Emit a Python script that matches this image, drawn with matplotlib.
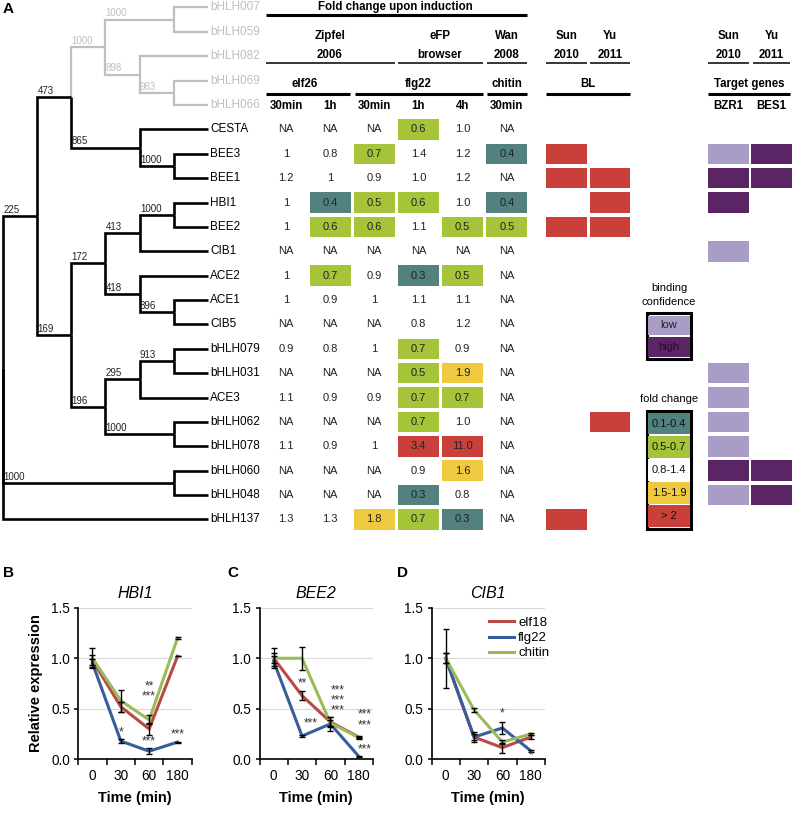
import matplotlib
matplotlib.use("Agg")
import matplotlib.pyplot as plt
from matplotlib.patches import Rectangle
from matplotlib.ticker import FormatStrFormatter

plt.rcParams['font.family'] = ['Liberation Sans', 'DejaVu Sans']

# ---------------- panel A data ----------------
# phylogeny: (bootstrap, depth level, children); leaves are gene names
tree = (None, 0, [
    (225, 1, [
        (473, 2, [
            (1000, 3, [(1000, 5, ['bHLH007', 'bHLH059']),
                       (898, 4, ['bHLH082', (983, 5, ['bHLH069', 'bHLH066'])])]),
            (865, 4, ['CESTA', (1000, 5, ['BEE3', 'BEE1'])]),
        ]),
        (169, 2, [
            (172, 3, [(413, 4, [(1000, 5, ['HBI1', 'BEE2']), 'CIB1']),
                      (418, 4, ['ACE2', (896, 5, ['ACE1', 'CIB5'])])]),
            (196, 3, [(295, 4, [(913, 5, ['bHLH079', 'bHLH031']), 'ACE3']),
                      (1000, 5, ['bHLH062', 'bHLH078'])]),
        ]),
    ]),
    (1000, 5, ['bHLH060', 'bHLH048']),
    'bHLH137',
])
grey_leaves = ['bHLH007', 'bHLH059', 'bHLH082', 'bHLH069', 'bHLH066']

table_genes = ['CESTA', 'BEE3', 'BEE1', 'HBI1', 'BEE2', 'CIB1', 'ACE2', 'ACE1', 'CIB5',
               'bHLH079', 'bHLH031', 'ACE3', 'bHLH062', 'bHLH078', 'bHLH060', 'bHLH048', 'bHLH137']
table_cols = ['30min', '1h', '30min', '1h', '4h', '30min']
fold_values = [
    ['NA', 'NA', 'NA', '0.6', '1.0', 'NA'],
    ['1', '0.8', '0.7', '1.4', '1.2', '0.4'],
    ['1.2', '1', '0.9', '1.0', '1.2', 'NA'],
    ['1', '0.4', '0.5', '0.6', '1.0', '0.4'],
    ['1', '0.6', '0.6', '1.1', '0.5', '0.5'],
    ['NA', 'NA', 'NA', 'NA', 'NA', 'NA'],
    ['1', '0.7', '0.9', '0.3', '0.5', 'NA'],
    ['1', '0.9', '1', '1.1', '1.1', 'NA'],
    ['NA', 'NA', 'NA', '0.8', '1.2', 'NA'],
    ['0.9', '0.8', '1', '0.7', '0.9', 'NA'],
    ['NA', 'NA', 'NA', '0.5', '1.9', 'NA'],
    ['1.1', '0.9', '0.9', '0.7', '0.7', 'NA'],
    ['NA', 'NA', 'NA', '0.7', '1.0', 'NA'],
    ['1.1', '0.9', '1', '3.4', '11.0', 'NA'],
    ['NA', 'NA', 'NA', '0.9', '1.6', 'NA'],
    ['NA', 'NA', 'NA', '0.3', '0.8', 'NA'],
    ['1.3', '1.3', '1.8', '0.7', '0.3', 'NA'],
]
bl_sun = ['BEE3', 'BEE1', 'BEE2', 'bHLH137']
bl_yu = ['BEE1', 'HBI1', 'BEE2', 'bHLH062']
bzr1_targets = {'BEE3': 'low', 'BEE1': 'high', 'HBI1': 'high', 'CIB1': 'low', 'bHLH031': 'low',
                'ACE3': 'low', 'bHLH062': 'low', 'bHLH078': 'low', 'bHLH060': 'high', 'bHLH048': 'low'}
bes1_targets = {'BEE3': 'high', 'BEE1': 'high', 'bHLH060': 'high', 'bHLH048': 'high'}

fold_labels = ['0.1-0.4', '0.5-0.7', '0.8-1.4', '1.5-1.9', '> 2']
binding_labels = ['low', 'high']

# ---------------- panels B-D data ----------------
times = ['0', '30', '60', '180']
treatments = ['elf18', 'flg22', 'chitin']
genes_bd = ['HBI1', 'BEE2', 'CIB1']
hbi1_mean = [[0.98, 0.52, 0.30, 1.02], [0.95, 0.18, 0.08, 0.17], [1.0, 0.58, 0.39, 1.20]]
hbi1_err = [[0.05, 0.05, 0.055, 0.0], [0.04, 0.02, 0.03, 0.005], [0.10, 0.11, 0.045, 0.01]]
bee2_mean = [[1.0, 0.63, 0.37, 0.22], [0.97, 0.23, 0.35, 0.03], [1.0, 1.0, 0.36, 0.215]]
bee2_err = [[0.05, 0.045, 0.05, 0.01], [0.05, 0.01, 0.07, 0.005], [0.10, 0.115, 0.03, 0.01]]
cib1_mean = [[1.0, 0.22, 0.115, 0.22], [1.0, 0.22, 0.31, 0.085], [1.0, 0.49, 0.17, 0.25]]
cib1_err = [[0.29, 0.05, 0.05, 0.02], [0.05, 0.03, 0.06, 0.01], [0.05, 0.02, 0.02, 0.01]]
# significance marks: (time index, y, text); stacked marks share one text
hbi1_stars = [(1, 0.27, '*'), (2, 0.675, '**\n***'), (2, 0.18, '***'), (3, 0.25, '***')]
bee2_stars = [(1, 0.75, '**'), (1.3, 0.35, '***'), (2.25, 0.58, '***\n***\n***'),
              (3.2, 0.39, '***\n***'), (3.2, 0.10, '***')]
cib1_stars = [(2, 0.45, '*'), (3, 0.04, '*')]

# colours
TEAL, GREEN, YELLOW, RED = '#52817f', '#a5c43a', '#efc93f', '#c9403a'
LIGHTP, DARKP = '#a99dc8', '#5b2465'
GREY = '#bfbfbf'
line_cols = ['#b84a45', '#385d9b', '#9bbb59']


def fold_colour(s):
    if s == 'NA':
        return None
    v = float(s)
    if v <= 0.45:
        return TEAL
    if v <= 0.75:
        return GREEN
    if v < 1.45:
        return None
    if v < 2:
        return YELLOW
    return RED


fig = plt.figure(figsize=(7.95, 8.13), dpi=100)
ax = fig.add_axes([0, 0, 1, 1])
ax.set_xlim(0, 795)
ax.set_ylim(813, 0)
ax.axis('off')

ROW0, ROW_STEP = 7.5, 24.38
X0, X_STEP, LEAF_LEV = 2.7, 34.2, 6


def row_y(i):
    return ROW0 + ROW_STEP * i


def lev_x(l):
    return X0 + X_STEP * l


leaves = []


def collect(node):
    if isinstance(node, str):
        leaves.append(node)
    else:
        for k in node[2]:
            collect(k)


collect(tree)


def draw(node):
    if isinstance(node, str):
        return row_y(leaves.index(node)), node in grey_leaves
    boot, lev, kids = node
    x = lev_x(lev)
    res = [draw(k) for k in kids]
    y = (res[0][0] + res[-1][0]) / 2
    for k, (cy, grey) in zip(kids, res):
        col = GREY if grey else 'black'
        if isinstance(k, str):
            cx = lev_x(LEAF_LEV)
        else:
            cx = lev_x(k[1])
            ax.text(x + 0.5, cy - 1.2, str(k[0]), fontsize=7,
                    color=GREY if grey else '#222222', ha='left', va='bottom')
        ax.plot([x, x, cx], [y, cy, cy], color=col, lw=1.9 if not grey else 1.6,
                solid_joinstyle='miter', solid_capstyle='butt', zorder=2 if not grey else 1)
    return y, all(r[1] for r in res)


draw(tree)
for i, name in enumerate(leaves):
    ax.text(lev_x(LEAF_LEV) + 2.5, row_y(i), name, fontsize=8.5, va='center', ha='left',
            color=GREY if name in grey_leaves else 'black')

# table
col_x = [286 + 44.15 * j for j in range(6)]
CW, CH = 41, 20.5
for gene, vals in zip(table_genes, fold_values):
    y = row_y(leaves.index(gene))
    for x, v in zip(col_x, vals):
        c = fold_colour(v)
        if c:
            ax.add_patch(Rectangle((x - CW / 2, y - CH / 2), CW, CH, fc=c, ec='none'))
        ax.text(x, y, v, fontsize=8, ha='center', va='center', color='#222222')

# headers
hb = dict(fontsize=8.3, fontweight='bold', ha='center', va='center')
ax.text(395, 7, 'Fold change upon induction', **hb)
ax.plot([266, 527], [15, 15], color='black', lw=2.2, solid_capstyle='butt')
row1 = [(330, 'Zipfel', '2006'), (440, 'eFP', 'browser'), (506.7, 'Wan', '2008'),
        (566.3, 'Sun', '2010'), (610, 'Yu', '2011'), (728.3, 'Sun', '2010'), (771.5, 'Yu', '2011')]
for x, a, b in row1:
    ax.text(x, 36, a, **hb)
    ax.text(x, 55, b, **hb)
for x1, x2 in [(266, 395), (398, 482.7), (486.7, 527), (546, 586.7), (590, 630),
               (708.3, 749.3), (752.7, 790)]:
    ax.plot([x1, x2], [63.3, 63.3], color='black', lw=1.1, solid_capstyle='butt')
for x, t in [(305, 'elf26'), (418.3, 'flg22'), (506.7, 'chitin'), (588, 'BL'), (749, 'Target genes')]:
    ax.text(x, 84, t, **hb)
for x1, x2 in [(266, 350), (355, 482.7), (486.7, 527), (546, 630), (708.3, 790)]:
    ax.plot([x1, x2], [94, 94], color='black', lw=2.2, solid_capstyle='butt')
for x, t in zip(col_x, table_cols):
    ax.text(x, 106, t, **hb)
ax.text(728.3, 106, 'BZR1', **hb)
ax.text(771.5, 106, 'BES1', **hb)

# BL and target boxes
BW = 40.5
for gene in bl_sun:
    y = row_y(leaves.index(gene))
    ax.add_patch(Rectangle((566.3 - BW / 2, y - CH / 2), BW, CH, fc=RED, ec='none'))
for gene in bl_yu:
    y = row_y(leaves.index(gene))
    ax.add_patch(Rectangle((610.2 - BW / 2, y - CH / 2), BW, CH, fc=RED, ec='none'))
for xc, targets in [(728.3, bzr1_targets), (771.5, bes1_targets)]:
    for gene, conf in targets.items():
        y = row_y(leaves.index(gene))
        ax.add_patch(Rectangle((xc - BW / 2, y - CH / 2), BW, CH,
                               fc=LIGHTP if conf == 'low' else DARKP, ec='none'))

# legends in A
LX0, LX1 = 646.7, 691


def legend_box(top, bottom, labels, colours, tcols):
    ax.add_patch(Rectangle((LX0, top), LX1 - LX0, bottom - top, fc='white', ec='black', lw=2.2, zorder=3))
    n = len(labels)
    step = (bottom - top - 3) / n
    for k, (lab, c, tc) in enumerate(zip(labels, colours, tcols)):
        yt = top + 1.5 + k * step
        ax.add_patch(Rectangle((LX0 + 1.5, yt + 0.8), LX1 - LX0 - 3, step - 1.6, fc=c, ec='none', zorder=4))
        ax.text((LX0 + LX1) / 2, yt + step / 2, lab, fontsize=8, ha='center', va='center', color=tc, zorder=5)


ax.text(669, 288, 'binding', fontsize=8, ha='center', va='center')
ax.text(669, 301.5, 'confidence', fontsize=8, ha='center', va='center')
legend_box(313.3, 359, binding_labels, [LIGHTP, DARKP], ['#222222', '#2a0a30'])
ax.text(669, 399.3, 'fold change', fontsize=8, ha='center', va='center')
legend_box(410.7, 529, fold_labels, [TEAL, GREEN, 'white', YELLOW, RED], ['#111111'] * 5)

ax.text(8, 9, 'A', fontsize=11, fontweight='bold', ha='center', va='center')

# ---------------- panels B-D ----------------
W, H = 795, 813


def px_axes(left, top, width, height):
    return fig.add_axes([left / W, 1 - (top + height) / H, width / W, height / H])


means = [hbi1_mean, bee2_mean, cib1_mean]
errs = [hbi1_err, bee2_err, cib1_err]
stars = [hbi1_stars, bee2_stars, cib1_stars]
lefts = [78.3, 259.5, 431.5]
letters = [(9, 'B'), (233, 'C'), (403, 'D')]
x = list(range(len(times)))
for p in range(3):
    a = px_axes(lefts[p], 607.7, 113.4, 151.6)
    a.set_xlim(-0.5, 3.5)
    a.set_ylim(0, 1.5)
    a.set_yticks([0, 0.5, 1.0, 1.5])
    a.yaxis.set_major_formatter(FormatStrFormatter('%.1f'))
    a.grid(axis='y', color='#d9d9d9', lw=0.8)
    a.set_axisbelow(True)
    a.set_xticks(x)
    a.set_xticklabels(times)
    a.set_xticks([-0.5, 0.5, 1.5, 2.5, 3.5], minor=True)
    a.tick_params(axis='x', which='major', length=0, pad=7, labelsize=9.8)
    a.tick_params(axis='x', which='minor', length=4, width=1.1, direction='out')
    a.tick_params(axis='y', length=3, width=1.1, labelsize=9.8, pad=3)
    for s in ['top', 'right']:
        a.spines[s].set_visible(False)
    for s in ['left', 'bottom']:
        a.spines[s].set_linewidth(1.2)
    for k in range(3):
        a.plot(x, means[p][k], color=line_cols[k], lw=2.2, label=treatments[k], zorder=3,
               solid_joinstyle='miter')
        a.errorbar(x, means[p][k], yerr=errs[p][k], fmt='none', ecolor='black',
                   elinewidth=1.0, capsize=2, capthick=1.0, zorder=4)
    for sx, sy, st in stars[p]:
        a.text(sx, sy, st, fontsize=8.5, ha='center', va='center', color='#333333',
               linespacing=0.8, zorder=5)
    a.set_title(genes_bd[p], style='italic', fontsize=11.5, pad=7)
    a.set_xlabel('Time (min)', fontsize=10.5, fontweight='bold', labelpad=6)
    if p == 0:
        a.set_ylabel('Relative expression', fontsize=10.5, fontweight='bold', labelpad=6)
    if p == 2:
        a.legend(loc='upper right', bbox_to_anchor=(1.04, 0.94), frameon=False, fontsize=9.5,
                 handlelength=1.9, handletextpad=0.3, labelspacing=0.22, borderaxespad=0,
                 borderpad=0)
    lx, lt = letters[p]
    fig.text(lx / W, 1 - 573 / H, lt, fontsize=11, fontweight='bold', ha='center', va='center')

fig.savefig('out.png', dpi=100)
